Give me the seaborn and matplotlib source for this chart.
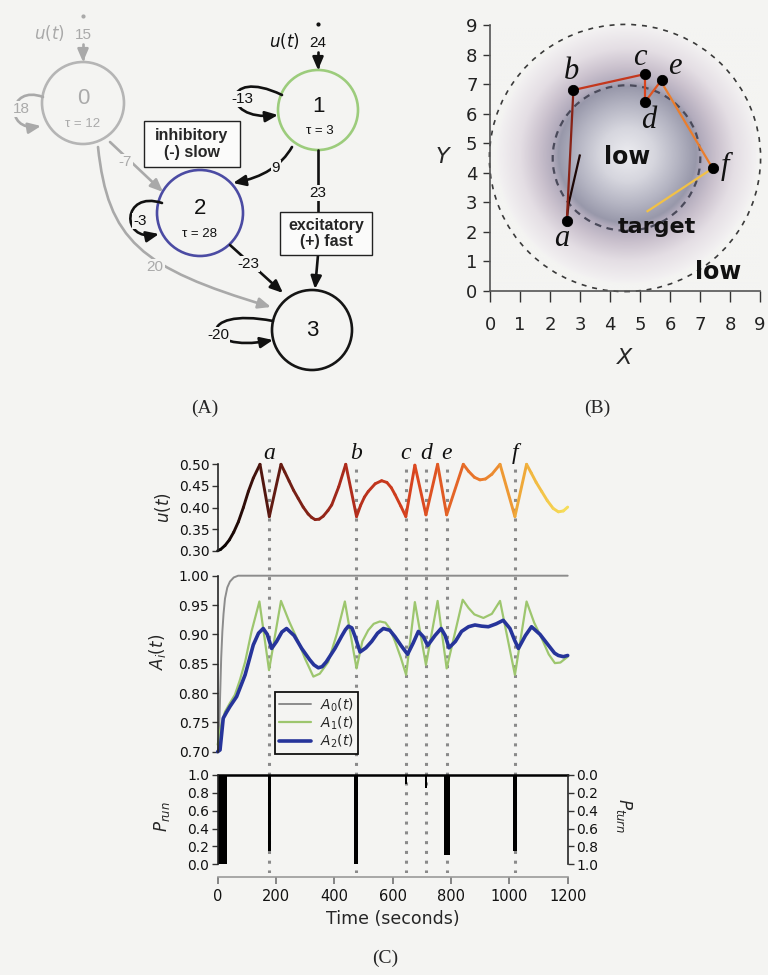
import numpy as np
import matplotlib
matplotlib.use("Agg")
import matplotlib.pyplot as plt
import seaborn as sns
from matplotlib.patches import Circle, FancyArrowPatch, Rectangle
from matplotlib.path import Path
from matplotlib.collections import LineCollection
from matplotlib.colors import LinearSegmentedColormap, Normalize

# ======================= DATA =======================
# Panel A : network
node_ids = [0, 1, 2, 3]
node_tau = [12, 3, 28, None]
input_weights = [15, 24]                      # u(t) -> node 0 , u(t) -> node 1
edge_src = [0, 1, 2, 3, 1, 1, 0, 0, 2]
edge_dst = [0, 1, 2, 3, 2, 3, 2, 3, 3]
edge_weight = [18, -13, -3, -20, 9, 23, -7, 20, -23]
box_texts = ["inhibitory\n(-) slow", "excitatory\n(+) fast"]

# Panel B : trajectory in the arena
traj_x = [3.00, 2.62, 2.56, 2.78, 5.17, 5.17, 5.72, 5.80, 7.42, 5.22]
traj_y = [4.62, 2.95, 2.38, 6.80, 7.34, 6.40, 7.14, 6.92, 4.15, 2.68]
traj_t = [0, 120, 177, 474, 644, 714, 785, 805, 1019, 1200]
event_names = ["a", "b", "c", "d", "e", "f"]
event_x = [2.56, 2.78, 5.17, 5.17, 5.72, 7.42]
event_y = [2.38, 6.80, 7.34, 6.40, 7.14, 4.15]
event_times = [177, 474, 644, 714, 785, 1019]
arena_ticks = list(range(10))

# Panel C : u(t)
u_time = [0, 10, 25, 40, 55, 71, 88, 105, 122, 145, 177, 217, 230, 245, 260, 276,
          293, 310, 322, 334, 348, 362, 378, 391, 415, 439, 476, 490, 503, 516,
          540, 562, 580, 595, 608, 628, 645, 676, 714, 754, 785, 842, 860, 880,
          899, 918, 940, 968, 1019, 1059, 1075, 1092, 1111, 1130, 1150, 1168,
          1185, 1200]
u_value = [0.300, 0.303, 0.312, 0.325, 0.343, 0.367, 0.400, 0.437, 0.468, 0.500,
           0.379, 0.500, 0.482, 0.461, 0.440, 0.421, 0.401, 0.385, 0.377, 0.372,
           0.373, 0.380, 0.393, 0.406, 0.448, 0.500, 0.379, 0.405, 0.424, 0.437,
           0.455, 0.462, 0.458, 0.446, 0.430, 0.403, 0.379, 0.498, 0.383, 0.500,
           0.383, 0.500, 0.484, 0.470, 0.464, 0.466, 0.477, 0.500, 0.379, 0.500,
           0.480, 0.458, 0.437, 0.416, 0.398, 0.390, 0.392, 0.401]

# Panel C : activations
a0_time = [0, 4, 8, 12, 16, 20, 25, 33, 42, 55, 70, 1200]
a0_value = [0.700, 0.720, 0.790, 0.860, 0.905, 0.935, 0.961, 0.980, 0.990, 0.997,
            1.000, 1.000]
a1_time = [0, 8, 14, 25, 42, 59, 76, 94, 116, 143, 176, 217, 245, 276, 300, 328,
           350, 379, 408, 436, 476, 496, 516, 535, 556, 575, 590, 608, 628, 646,
           676, 714, 754, 785, 840, 860, 880, 911, 940, 968, 1019, 1059, 1085,
           1111, 1135, 1156, 1175, 1200]
a1_value = [0.712, 0.735, 0.750, 0.768, 0.783, 0.797, 0.822, 0.853, 0.905, 0.956,
            0.839, 0.957, 0.922, 0.888, 0.858, 0.828, 0.833, 0.853, 0.900, 0.956,
            0.842, 0.888, 0.907, 0.918, 0.922, 0.920, 0.910, 0.888, 0.860, 0.831,
            0.955, 0.848, 0.957, 0.842, 0.959, 0.945, 0.934, 0.928, 0.935, 0.957,
            0.831, 0.956, 0.920, 0.893, 0.866, 0.851, 0.852, 0.862]
a2_time = [0, 8, 19, 30, 42, 65, 94, 122, 140, 156, 170, 185, 202, 220, 236, 262,
           288, 315, 330, 345, 358, 372, 402, 425, 438, 448, 460, 472, 488, 508,
           528, 548, 568, 590, 608, 630, 651, 670, 688, 705, 720, 745, 766, 780,
           793, 815, 836, 860, 882, 905, 928, 955, 979, 1002, 1018, 1031, 1055,
           1076, 1105, 1133, 1155, 1168, 1185, 1200]
a2_value = [0.700, 0.703, 0.757, 0.767, 0.777, 0.794, 0.831, 0.882, 0.902, 0.910,
            0.900, 0.876, 0.888, 0.904, 0.910, 0.898, 0.876, 0.857, 0.848, 0.843,
            0.845, 0.853, 0.876, 0.897, 0.908, 0.914, 0.911, 0.895, 0.870, 0.877,
            0.888, 0.902, 0.910, 0.907, 0.896, 0.880, 0.866, 0.885, 0.905, 0.896,
            0.881, 0.898, 0.910, 0.898, 0.877, 0.888, 0.905, 0.913, 0.916, 0.914,
            0.913, 0.918, 0.924, 0.910, 0.890, 0.876, 0.898, 0.913, 0.900, 0.882,
            0.868, 0.864, 0.862, 0.864]

# Panel C : run probability (bursts of turning)
burst_start = [0, 172, 466, 641, 711, 776, 1012]
burst_end = [33, 183, 482, 648, 718, 795, 1026]
burst_min = [0.0, 0.15, 0.0, 0.90, 0.85, 0.10, 0.15]
run_time = [0, 1200]
run_level = [1.0, 1.0]

# ======================= STYLE =======================
BG = "#f4f4f2"
sns.set_theme(style="ticks")
plt.rcParams["font.family"] = ["DejaVu Sans"]
plt.rcParams["mathtext.fontset"] = "dejavusans"
plt.rcParams["axes.facecolor"] = "none"
SERIF = "Liberation Serif"

time_cmap = LinearSegmentedColormap.from_list(
    "time", [(0.0, "#000000"), (0.15, "#5c1a12"), (0.38, "#b02c1c"),
             (0.56, "#da431e"), (0.75, "#ea7a2c"), (0.88, "#f0ae3a"),
             (1.0, "#f6df5a")])
tnorm = Normalize(0, 1200)

fig = plt.figure(figsize=(7.68, 9.75), dpi=100, facecolor=BG)

# ======================= PANEL A =======================
axA = fig.add_axes([0, 1 - 380 / 975, 400 / 768, 380 / 975])
axA.set_xlim(0, 400)
axA.set_ylim(380, 0)
axA.axis("off")

SANS = "Liberation Sans"
node_pos = {0: (83, 103), 1: (318, 110), 2: (200, 213), 3: (312, 330)}
node_r = {0: 41, 1: 40, 2: 43, 3: 40}
node_col = {0: "#b5b5b5", 1: "#9ccc7c", 2: "#4b4ba3", 3: "#151515"}
txt_col = {0: "#aaaaaa", 1: "#111111", 2: "#111111", 3: "#111111"}
GRAY = "#a9a9a9"

def arrow_path(verts, codes, color, lw=1.9, head=True):
    style = "-|>,head_length=0.75,head_width=0.32" if head else "-"
    p = FancyArrowPatch(path=Path(verts, codes), arrowstyle=style,
                        mutation_scale=10, color=color, lw=lw)
    axA.add_patch(p)

M, L, C3, C4 = Path.MOVETO, Path.LINETO, Path.CURVE3, Path.CURVE4

def wlabel(x, y, w, color="#111111", size=11):
    axA.text(x, y, str(w), ha="center", va="center", fontsize=size,
             family=SANS, color=color,
             bbox=dict(boxstyle="square,pad=0.08", fc=BG, ec="none"))

for n in node_ids:
    x, y = node_pos[n]
    axA.add_patch(Circle((x, y), node_r[n], fill=False, ec=node_col[n], lw=1.9))
    axA.text(x, y - 4 if n != 3 else y, str(n), ha="center", va="center",
             fontsize=16, family=SANS, color=txt_col[n])
    if node_tau[n] is not None:
        axA.text(x + (2 if n == 1 else 0), y + 21, f"τ = {node_tau[n]}",
                 ha="center", va="center", fontsize=9.5, family=SANS,
                 color=txt_col[n])

# inputs
for n, w, col in [(0, input_weights[0], GRAY), (1, input_weights[1], "#111111")]:
    x, y = node_pos[n]
    top = y - node_r[n]
    arrow_path([(x, top - 18), (x, top)], [M, L], col)
    axA.text(x, top - 27, str(w), ha="center", va="center", fontsize=11,
             family=SANS, color=col)
    axA.text(x - 34, top - 29, "$u(t)$", ha="center", va="center",
             fontsize=12, color=col)
    axA.plot([x], [top - 46], marker="o", ms=2, color=col)

# self loops
loops = {
    0: [(43, 97), (8, 84), (4, 132), (41, 126)],
    1: [(282, 95), (222, 66), (220, 122), (278, 115)],
    2: [(162, 203), (122, 190), (120, 242), (159, 234)],
    3: [(273, 321), (196, 306), (200, 354), (273, 340)],
}
loop_lab = {0: (21, 109), 1: (242, 99), 2: (140, 221), 3: (218, 335)}
for s, d, w in zip(edge_src, edge_dst, edge_weight):
    col = GRAY if s == 0 else "#111111"
    lcol = "#aaaaaa" if s == 0 else "#111111"
    if s == d:
        arrow_path(loops[s], [M, C4, C4, C4], col)
        wlabel(*loop_lab[s], w, color=lcol)
    elif (s, d) == (1, 2):
        arrow_path([(292, 147), (276, 175), (233, 183)], [M, C3, C3], col)
        wlabel(276, 168, w)
    elif (s, d) == (1, 3):
        arrow_path([(318, 150), (318, 212)], [M, L], col, head=False)
        wlabel(318, 193, w)
        arrow_path([(318, 255), (315, 289)], [M, L], col)
    elif (s, d) == (0, 2):
        arrow_path([(110, 142), (163, 192)], [M, L], col)
        wlabel(125, 162, w, color=lcol)
    elif (s, d) == (0, 3):
        arrow_path([(98, 147), (108, 240), (140, 268), (271, 307)],
                   [M, C4, C4, C4], col)
        wlabel(155, 267, w, color=lcol)
    elif (s, d) == (2, 3):
        arrow_path([(230, 245), (283, 293)], [M, L], col)
        wlabel(248, 264, w)

for (x0, y0, bw, bh), t in zip([(144, 121, 96, 46), (280, 212, 92, 43)], box_texts):
    axA.add_patch(Rectangle((x0, y0), bw, bh, fc="#fbfbfa", ec="#222222", lw=1.0))
    axA.text(x0 + bw / 2, y0 + bh / 2, t, ha="center", va="center",
             fontsize=11.5, family=SANS, fontweight="bold", linespacing=1.15)

# ======================= PANEL B =======================
axB = fig.add_axes([490 / 768, 1 - 291 / 975, 270 / 768, 266 / 975])
axB.set_xlim(0, 9)
axB.set_ylim(0, 9)

g = np.linspace(0, 9, 450)
GX, GY = np.meshgrid(g, g)
R = np.hypot(GX - 4.58, GY - 4.6)
stops = [0.0, 0.9, 1.7, 2.3, 2.5, 3.0, 3.6, 4.3, 4.4]
cols = ["#ececf0", "#d6d6de", "#b4b4c2", "#9898aa", "#b2abbc", "#cbc2ce",
        "#e4dee4", "#f2f0f1", BG]
blob_cmap = LinearSegmentedColormap.from_list(
    "blob", list(zip(np.array(stops) / 4.4, cols)))
axB.imshow(np.clip(R / 4.4, 0, 1), cmap=blob_cmap, vmin=0, vmax=1,
           extent=(0, 9, 0, 9), origin="lower", aspect="auto",
           interpolation="bilinear", zorder=0)

axB.add_patch(Circle((4.5, 4.5), 4.52, fill=False, ls=(0, (3, 3.5)),
                     lw=1.2, ec="#3a3a3a", clip_on=False, zorder=2))
axB.add_patch(Circle((4.55, 4.5), 2.46, fill=False, ls=(0, (3, 2.5)),
                     lw=1.6, ec="#4a4a5a", zorder=2))

pts = np.column_stack([traj_x, traj_y])
segs = np.stack([pts[:-1], pts[1:]], axis=1)
mids = (np.array(traj_t[:-1]) + np.array(traj_t[1:])) / 2
axB.add_collection(LineCollection(segs, colors=time_cmap(tnorm(mids)), lw=1.6,
                                  zorder=3))
sns.scatterplot(x=event_x, y=event_y, color="black", s=55, edgecolor="black",
                zorder=5, ax=axB, legend=False)
lab_off = [(-0.17, -0.62), (-0.06, 0.62), (-0.17, 0.55), (0.11, -0.62),
           (0.45, 0.45), (0.42, 0.05)]
for n, x, y, (dx, dy) in zip(event_names, event_x, event_y, lab_off):
    axB.text(x + dx, y + dy, n, ha="center", va="center", fontsize=22,
             family=SERIF, style="italic", color="#111111", zorder=6)

axB.text(4.56, 4.55, "low", ha="center", va="center", fontsize=17,
         fontweight="bold", color="#111111", zorder=6)
axB.text(5.56, 2.18, "target", ha="center", va="center", fontsize=16,
         fontweight="bold", color="#111111", zorder=6)
axB.text(7.6, 0.64, "low", ha="center", va="center", fontsize=17,
         fontweight="bold", color="#111111", zorder=6)

axB.set_xticks(arena_ticks)
axB.set_yticks(arena_ticks)
axB.tick_params(axis="both", labelsize=13, colors="#333333", labelcolor="#222222",
                width=1.0)
axB.tick_params(axis="x", length=8, pad=10)
axB.tick_params(axis="y", length=5, pad=4)
for s in ["top", "right"]:
    axB.spines[s].set_visible(False)
for s in ["left", "bottom"]:
    axB.spines[s].set_color("#555555")
    axB.spines[s].set_linewidth(1.2)
axB.set_xlabel("$X$", fontsize=16)
axB.set_ylabel("$Y$", fontsize=16, rotation=0, ha="center", va="center")
axB.xaxis.set_label_coords(0.5, -0.215)
axB.yaxis.set_label_coords(-0.174, 0.503)

# ======================= PANEL C =======================
LX = 217.7 / 768
WX = 350 / 768

def frac(top_px, bot_px):
    return [LX, 1 - bot_px / 975, WX, (bot_px - top_px) / 975]

ov = fig.add_axes(frac(463, 873))
ov.set_xlim(0, 1200)
ov.set_ylim(0, 1)
ov.axis("off")
ov.vlines(event_times, 0, 1, colors="#8a8a8a", linestyles=(0, (1, 2.2)), lw=2.2)
for n, t in zip(event_names, event_times):
    ov.text(t, 1.01, n, ha="center", va="baseline", fontsize=17,
            family=SERIF, style="italic", color="#111111")

# u(t)
axU = fig.add_axes(frac(464.3, 550.7))
axU.set_xlim(0, 1200)
axU.set_ylim(0.30, 0.50)
up = np.column_stack([u_time, u_value])
useg = np.stack([up[:-1], up[1:]], axis=1)
umid = (np.array(u_time[:-1]) + np.array(u_time[1:])) / 2
axU.add_collection(LineCollection(useg, colors=time_cmap(tnorm(umid)), lw=2.1,
                                  capstyle="round", joinstyle="round",
                                  clip_on=False))
axU.set_yticks([0.30, 0.35, 0.40, 0.45, 0.50])
axU.set_yticklabels([f"{v:.2f}" for v in [0.30, 0.35, 0.40, 0.45, 0.50]])
axU.set_xticks([])
for s in ["top", "right", "bottom"]:
    axU.spines[s].set_visible(False)
axU.set_ylabel("$u(t)$", fontsize=12)
axU.yaxis.set_label_coords(-0.128, 0.5)

# A_i(t)
axAi = fig.add_axes(frac(575.7, 751.7))
sns.lineplot(x=a0_time, y=a0_value, ax=axAi, color="#8c8c8c", lw=1.4,
             estimator=None, label="$A_0(t)$")
sns.lineplot(x=a1_time, y=a1_value, ax=axAi, color="#9dc66e", lw=1.6,
             estimator=None, label="$A_1(t)$")
sns.lineplot(x=a2_time, y=a2_value, ax=axAi, color="#26349a", lw=2.6,
             estimator=None, label="$A_2(t)$")
axAi.set_xlim(0, 1200)
axAi.set_ylim(0.70, 1.00)
yt = [0.70, 0.75, 0.80, 0.85, 0.90, 0.95, 1.00]
axAi.set_yticks(yt)
axAi.set_yticklabels([f"{v:.2f}" for v in yt])
axAi.set_xticks([])
for s in ["top", "right", "bottom"]:
    axAi.spines[s].set_visible(False)
for ln in axAi.lines:
    ln.set_clip_on(False)
axAi.set_ylabel("$A_i(t)$", fontsize=12)
axAi.yaxis.set_label_coords(-0.142, 0.566)
leg = axAi.legend(loc="upper left", bbox_to_anchor=(0.164, 0.339),
                  borderaxespad=0, frameon=True, fancybox=False, fontsize=10,
                  handlelength=2.3, labelspacing=0.05, borderpad=0.3,
                  handletextpad=0.6)
leg.get_frame().set_edgecolor("#111111")
leg.get_frame().set_linewidth(1.3)
leg.get_frame().set_facecolor(BG)
leg.get_frame().set_alpha(1)

# P_run
axP = fig.add_axes(frac(775, 864.3))
axP.set_xlim(0, 1200)
axP.set_ylim(0, 1)
axP.bar(burst_start, np.array([1.0] * len(burst_min)) - np.array(burst_min),
        bottom=burst_min, width=np.array(burst_end) - np.array(burst_start),
        align="edge", color="black", edgecolor="none")
sns.lineplot(x=run_time, y=run_level, ax=axP, color="black", lw=1.8,
             estimator=None)
for ln in axP.lines:
    ln.set_clip_on(False)
pt = [0.0, 0.2, 0.4, 0.6, 0.8, 1.0]
axP.set_yticks(pt)
axP.set_yticklabels([f"{v:.1f}" for v in pt])
axP.set_xticks([0, 200, 400, 600, 800, 1000, 1200])
axP.spines["top"].set_visible(False)
axP.spines["right"].set_visible(False)
axP.spines["bottom"].set_position(("outward", 9))
axP.spines["bottom"].set_color("#9a9a9a")
axP.tick_params(axis="x", colors="#777777", labelcolor="#111111", length=5,
                labelsize=10.5, pad=4)
axP.set_xlabel("Time (seconds)", fontsize=12.5, labelpad=4)
axP.set_ylabel("$P_{run}$", fontsize=12)
axP.yaxis.set_label_coords(-0.131, 0.53)

axR = axP.twinx()
axR.set_ylim(1, 0)
axR.set_yticks(pt)
axR.set_yticklabels([f"{v:.1f}" for v in pt])
axR.spines["top"].set_visible(False)
axR.spines["left"].set_visible(False)
axR.spines["bottom"].set_visible(False)
axR.set_ylabel("$P_{turn}$", fontsize=12, rotation=270)
axR.yaxis.set_label_coords(1.19, 0.55)

for ax in [axU, axAi, axP, axR]:
    ax.tick_params(axis="y", labelsize=10, length=4, width=1, pad=2,
                   colors="#333333", labelcolor="#111111")
    for s in ax.spines.values():
        s.set_linewidth(1.2)

# panel labels
for txt, x, y in [("(A)", 205, 408), ("(B)", 597, 408), ("(C)", 385, 958)]:
    fig.text(x / 768, 1 - y / 975, txt, ha="center", va="center", fontsize=14,
             family=SERIF)

fig.savefig("out.png", dpi=100, facecolor=BG)
